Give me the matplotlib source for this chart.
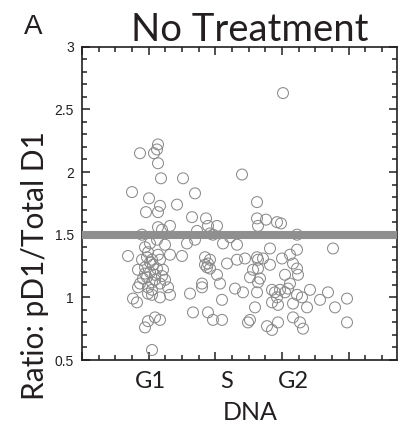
#import libraries
import numpy as np
import matplotlib
matplotlib.use('Agg')
import matplotlib.pyplot as plt
from matplotlib.ticker import MultipleLocator

# x = DNA content (arbitrary units), y = pD1 / total D1 ratio, one entry per cell
dna = [174, 228, 225, 216, 228, 237, 303, 339, 150, 201, 285, 234, 192, 228, 330, 372,
       480, 525, 525, 552, 585, 597, 528, 603, 264, 228, 240, 345, 378, 405, 384, 393,
       444, 423, 465, 645, 180, 225, 204, 249, 315, 339, 189, 198, 138, 300, 264, 195,
       210, 234, 180, 369, 753, 645, 564,
       168, 189, 204, 225, 243, 189, 195, 219, 234, 168, 198, 258, 174, 210, 153, 210,
       234, 198, 264, 165, 324, 360, 375, 360, 378, 405, 414, 420, 435, 465, 489, 459,
       483, 525, 513, 534, 528, 543, 564, 570, 588, 579, 594, 609, 600, 624, 633, 609,
       648, 624, 645, 633, 660, 675, 684, 714, 738, 759, 795, 384, 528, 645, 504, 570,
       585, 618, 519,
       198, 219, 234, 189, 210, 333, 378, 393, 420, 504, 498, 555, 570, 588, 633, 654,
       663, 795,
       228, 525, 369, 384, 213, 528, 204, 219, 183, 240, 210, 249]
ratio = [2.15, 2.22, 2.18, 2.15, 2.07, 1.95, 1.95, 1.83, 1.84, 1.79, 1.74, 1.73, 1.68, 1.68, 1.64, 1.63,
         1.98, 1.76, 1.63, 1.62, 1.60, 1.59, 1.57, 2.63, 1.57, 1.56, 1.54, 1.53, 1.57, 1.57, 1.51, 1.50,
         1.48, 1.43, 1.42, 1.50, 1.50, 1.46, 1.43, 1.42, 1.43, 1.46, 1.40, 1.36, 1.33, 1.33, 1.34, 1.32,
         1.30, 1.30, 1.30, 1.32, 1.39, 1.38, 1.39,
         1.22, 1.24, 1.20, 1.23, 1.22, 1.19, 1.16, 1.14, 1.11, 1.08, 1.08, 1.08, 1.11, 1.12, 0.99, 1.02,
         1.00, 1.03, 1.02, 0.96, 1.03, 1.08, 1.24, 1.11, 1.27, 1.18, 1.11, 0.98, 1.27, 1.30, 1.31, 1.07,
         1.04, 1.04, 1.22, 1.15, 1.12, 1.31, 1.26, 0.96, 0.94, 1.04, 1.06, 1.04, 1.31, 1.34, 1.27, 1.18,
         1.18, 1.11, 1.02, 0.95, 1.00, 0.92, 1.06, 0.98, 1.04, 0.92, 0.99, 1.30, 1.30, 1.23, 1.16, 1.06,
         1.00, 1.07, 0.92,
         0.81, 0.84, 0.82, 0.76, 0.58, 0.88, 0.88, 0.82, 0.82, 0.82, 0.80, 0.77, 0.74, 0.80, 0.84, 0.80,
         0.75, 0.80,
         1.34, 1.32, 1.26, 1.23, 1.26, 1.23, 1.28, 1.18, 1.15, 1.17, 1.06, 1.14]

threshold = 1.5
phase_labels = ['G1', 'S', 'G2']
phase_pos = [204, 435, 633]

ink = '#231f20'
plt.rcParams['font.family'] = ['Lato', 'DejaVu Sans']

fig = plt.figure(figsize=(4.01, 4.28), dpi=100)
ax = fig.add_axes([82/401, 1-360/428, 315/401, 313.3/428])

ax.scatter(dna, ratio, s=62, facecolors='none', edgecolors='#8a8a8a', linewidths=0.75, zorder=2)
# threshold band at 1.5
ax.axhline(threshold, color='#8f8f8f', lw=5.8, zorder=3)

ax.set_xlim(0, 945)
ax.set_ylim(0.5, 3)
ax.xaxis.set_major_locator(MultipleLocator(200))
ax.xaxis.set_minor_locator(MultipleLocator(50))
ax.yaxis.set_major_locator(MultipleLocator(0.5))
ax.yaxis.set_minor_locator(MultipleLocator(0.1))
ax.set_yticks([0.5, 1, 1.5, 2, 2.5, 3])
ax.set_yticklabels(['0.5', '1', '1.5', '2', '2.5', '3'], family='Liberation Sans')
ax.tick_params(which='both', direction='in', top=True, right=True, width=1.1, colors=ink,
               labelsize=10, labelcolor=ink, pad=6)
ax.tick_params(which='major', length=6)
ax.tick_params(which='minor', length=3.5)
ax.tick_params(axis='x', labelbottom=False)
for sp in ax.spines.values():
    sp.set_linewidth(1.2)
    sp.set_color(ink)

# phase labels sit under the axis, not on the ticks
for lab, xp in zip(phase_labels, phase_pos):
    ax.text(xp, -0.035, lab, transform=ax.get_xaxis_transform(), ha='center', va='top',
            fontsize=17, color=ink)

fig.text(250/401, 1-412/428, 'DNA', ha='center', va='center', fontsize=18, color=ink)
fig.text(35/401, 1-266/428, 'Ratio: pD1/Total D1', rotation=90, ha='center', va='center',
         fontsize=21.5, color=ink)
fig.text(250/401, 1-41/428, 'No Treatment', ha='center', va='baseline', fontsize=27.5, color=ink)
fig.text(24/401, 1-34/428, 'A', ha='left', va='baseline', fontsize=20, color=ink,
         family='Liberation Sans')

fig.savefig('out.png', dpi=100)
